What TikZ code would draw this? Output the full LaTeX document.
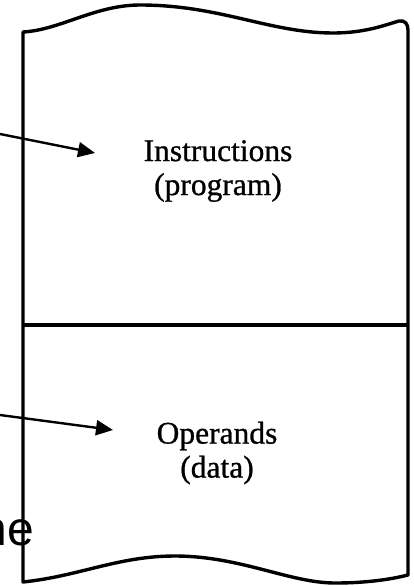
\documentclass[tikz,border=0pt]{standalone}
\usepackage{fontspec}
\setmainfont{Liberation Serif}
\newfontfamily\inkfont[FakeBold=0.8]{Liberation Serif}
\newfontfamily\sansfont{Liberation Sans}
\usetikzlibrary{arrows.meta}

\tikzset{
  memory/.style={line width=3.4pt, line join=round},
  divider/.style={line width=3.6pt},
  pointer/.style={line width=2.4pt, -{Triangle[length=17pt,width=15pt]}},
  label/.style={inner sep=0pt, align=center,
    font=\inkfont\fontsize{31.5}{34}\selectfont},
}

\begin{document}
\begin{tikzpicture}[x=1pt, y=-1pt]
  \useasboundingbox (0,0) rectangle (414,586);
  \clip (0,0) rectangle (414,586);

  % memory block with torn (wavy) top and bottom edges
  \draw[memory]
    (23,32) -- (23,582)
    .. controls (80,576) and (118,556) .. (175,556)
    .. controls (240,556) and (290,583) .. (335,583)
    .. controls (372,583) and (396,578) .. (408,575)
    -- (408,30)
    .. controls (408,24) and (405,20) .. (399,21)
    .. controls (385,25) and (365,33) .. (333,33)
    .. controls (270,33) and (220,5) .. (140,5)
    .. controls (95,5) and (60,30) .. (23,32) -- cycle;

  % boundary between program area and data area
  \coordinate (divL) at (23,325);
  \coordinate (divR) at (408,325);
  \draw[divider] (divL) -- (divR);

  % region labels
  \node[label] (instr) at (218,171) {Instructions\\(program)};
  \node[label] (oper)  at (217,453) {Operands\\(data)};

  % pointers into the two regions
  \coordinate (p1start) at (0,134);
  \coordinate (p1tip)   at (95,153);
  \coordinate (p2start) at (0,415);
  \coordinate (p2tip)   at (113,430);
  \draw[pointer] (p1start) -- (p1tip);
  \draw[pointer] (p2start) -- (p2tip);

  % word fragment running in from the left margin
  \node[inner sep=0pt, anchor=base east,
        font=\sansfont\fontsize{48}{48}\selectfont] (frag) at (34,545) {ne};
\end{tikzpicture}
\end{document}
